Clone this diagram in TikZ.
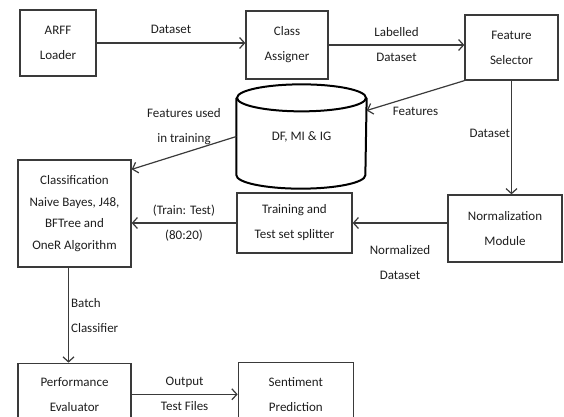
\documentclass[tikz,border=0pt]{standalone}
\usepackage{fontspec}
\setmainfont{Carlito}
\usepackage{xcolor}
\usepackage{tikz}
\usetikzlibrary{arrows.meta, positioning}
\definecolor{boxline}{HTML}{3A3A3A}
\definecolor{textgray}{HTML}{1E1E1E}

\begin{document}
\begin{tikzpicture}[
    x=1pt, y=-1pt,
    every node/.style={
        draw=boxline,
        line width=1.3pt,
        text=textgray,
        font=\fontsize{13}{25}\selectfont,
        align=center},
    >={Straight Barb[length=5pt, width=11pt]}]
    \useasboundingbox (0,0) rectangle (564,416);
    \clip (0,0) rectangle (564,416);

    \node[minimum width=76pt, minimum height=66pt] (loader) at (58,43) {ARFF\\Loader};
    \node[minimum width=82pt, minimum height=68pt] (assigner) at (287,45) {Class\\Assigner};
    \node[minimum width=93pt, minimum height=65pt] (selector) at (511.5,47.5) {Feature\\Selector};
    \node[draw=none, minimum width=129pt, minimum height=103pt] (db) at (301.5,136.5) {\raisebox{-6pt}{DF, MI \& IG}};
    \node[minimum width=113pt, minimum height=107pt, font=\fontsize{13}{21.5}\selectfont] (classif) at (74.5,213.5) {Classification\\Naive Bayes, J48,\\BFTree and\\OneR Algorithm};
    \node[minimum width=115pt, minimum height=60pt] (splitter) at (294.5,223) {Training and\\Test set splitter};
    \node[minimum width=114pt, minimum height=67pt] (normal) at (505,228.5) {Normalization\\Module};
    \node[minimum width=113pt, minimum height=62pt, below=95pt of classif] (perf) {Performance\\Evaluator};
    \node[minimum width=115pt, minimum height=63pt, right=106pt of perf] (predict) {Sentiment\\Prediction};

    % cylinder round the db node
    \draw[line width=2pt, black] ([yshift=-13.5pt]db.north) ellipse [x radius=64.5pt, y radius=13.5pt];
    \draw[line width=2pt, black] ([yshift=-13.5pt]db.north west) -- ([yshift=13.5pt]db.south west)
        arc[start angle=180, end angle=360, x radius=64.5pt, y radius=13.5pt] -- ([yshift=-13.5pt]db.north east);

    \begin{scope}[
        boxline, line width=1.2pt,
        every node/.style={
            draw=none,
            text=textgray,
            inner sep=2pt,
            font=\fontsize{13}{25}\selectfont,
            align=center}]
        \draw[->] (loader.east) -- node[above=7pt] {Dataset} (loader.east -| assigner.west);
        \draw[->] (assigner.east) -- node {Labelled\\Dataset} (assigner.east -| selector.west);
        \draw[->] (selector.south west) -- node[below=9pt] {Features} ([yshift=26pt]db.east);
        \draw[->] (db.west) -- node[above=6pt] {Features used\\in training} ([yshift=-10pt]classif.north east);
        \draw[->] (selector.south) -- node[left=0pt, inner sep=1pt, yshift=4pt] {Dataset} (selector.south |- normal.north);
        \draw[->] (splitter.east -| normal.west) -- node[below=20pt] {Normalized\\Dataset} (splitter.east);
        \draw[->] (splitter.west) -- node {(Train: Test)\\(80:20)} (splitter.west -| classif.east);
        \draw[->] ([xshift=-6pt]classif.south) -- node[right, align=left] {Batch\\Classifier} ([xshift=-6pt]perf.north);
        \draw[->] (perf.east) -- node {Output\\Test Files} (perf.east -| predict.west);
    \end{scope}
\end{tikzpicture}
\end{document}
